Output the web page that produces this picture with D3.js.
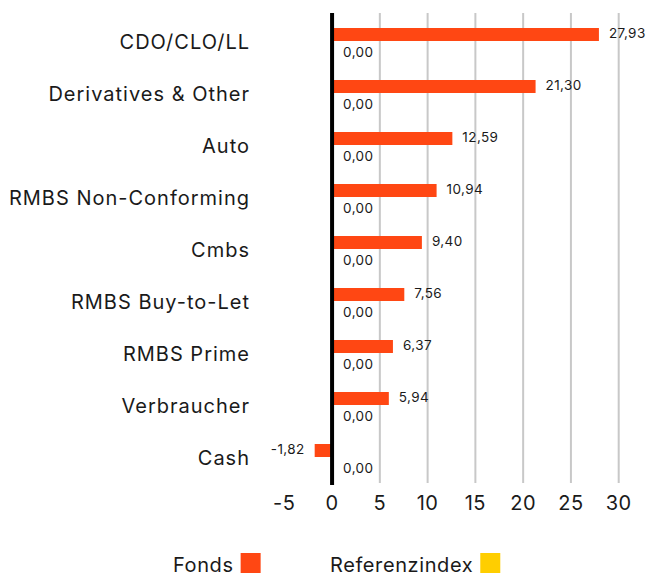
<!DOCTYPE html>
<html>
<head>
<meta charset="utf-8">
<script src="https://cdn.jsdelivr.net/npm/d3@7"></script>
<style>
  body { margin: 0; background: #fff; }
  text { font-family: Inter, "Noto Sans", sans-serif; fill: #1a1a1a; }
</style>
</head>
<body>
<div id="chart"></div>
<script>
// Data
const categories = ["CDO/CLO/LL", "Derivatives & Other", "Auto", "RMBS Non-Conforming",
  "Cmbs", "RMBS Buy-to-Let", "RMBS Prime", "Verbraucher", "Cash"];
const fonds = [27.93, 21.30, 12.59, 10.94, 9.40, 7.56, 6.37, 5.94, -1.82];
const referenz = [0, 0, 0, 0, 0, 0, 0, 0, 0];
const tickValues = [-5, 0, 5, 10, 15, 20, 25, 30];
const seriesNames = ["Fonds", "Referenzindex"];
const seriesColors = ["#FF4713", "#FFCE00"];

const width = 647, height = 579;
const svg = d3.select("#chart").append("svg")
  .attr("width", width).attr("height", height);

const x = d3.scaleLinear().domain([-5, 30]).range([284.3, 618.7]);
const y = d3.scaleBand().domain(categories).range([15, 483]);
// each bar 13px high: fonds above band center, referenz below
const barH = 13;
const fmt = v => v.toFixed(2).replace(".", ",");

// gridlines (positive ticks only)
svg.append("g").selectAll("line")
  .data(tickValues.filter(d => d > 0))
  .join("line")
  .attr("x1", d => x(d)).attr("x2", d => x(d))
  .attr("y1", 13).attr("y2", 483)
  .attr("stroke", "#c8c8c8").attr("stroke-width", 2);

// fonds bars
svg.append("g").selectAll("rect")
  .data(fonds)
  .join("rect")
  .attr("x", d => x(Math.min(0, d)))
  .attr("width", d => Math.abs(x(d) - x(0)))
  .attr("y", (d, i) => y(categories[i]) + y.bandwidth() / 2 - barH)
  .attr("height", barH)
  .attr("fill", seriesColors[0]);

// referenz bars (zero)
svg.append("g").selectAll("rect")
  .data(referenz)
  .join("rect")
  .attr("x", d => x(Math.min(0, d)))
  .attr("width", d => Math.abs(x(d) - x(0)))
  .attr("y", (d, i) => y(categories[i]) + y.bandwidth() / 2)
  .attr("height", barH)
  .attr("fill", seriesColors[1]);

// zero line
svg.append("line")
  .attr("x1", x(0)).attr("x2", x(0))
  .attr("y1", 13).attr("y2", 485)
  .attr("stroke", "#000").attr("stroke-width", 4);

// fonds value labels
svg.append("g").selectAll("text")
  .data(fonds)
  .join("text")
  .attr("x", d => d >= 0 ? x(d) + 10 : x(d) - 10)
  .attr("y", (d, i) => y(categories[i]) + y.bandwidth() / 2 - barH / 2 - 2)
  .attr("text-anchor", d => d >= 0 ? "start" : "end")
  .attr("dominant-baseline", "central")
  .style("font-size", "13.5px")
  .style("letter-spacing", "0.4px")
  .text(fmt);

// referenz value labels
svg.append("g").selectAll("text")
  .data(referenz)
  .join("text")
  .attr("x", d => x(d) + 11)
  .attr("y", (d, i) => y(categories[i]) + y.bandwidth() / 2 + barH / 2 + 4)
  .attr("dominant-baseline", "central")
  .style("font-size", "13.5px")
  .style("letter-spacing", "0.4px")
  .text(fmt);

// category labels
svg.append("g").selectAll("text")
  .data(categories)
  .join("text")
  .attr("x", 250)
  .attr("y", d => y(d) + y.bandwidth() / 2 + 1)
  .attr("text-anchor", "end")
  .attr("dominant-baseline", "central")
  .style("font-size", "20px")
  .style("letter-spacing", "1px")
  .text(d => d);

// x axis tick labels
svg.append("g").selectAll("text")
  .data(tickValues)
  .join("text")
  .attr("x", d => x(d))
  .attr("y", 503)
  .attr("text-anchor", "middle")
  .attr("dominant-baseline", "central")
  .style("font-size", "20px")
  .style("letter-spacing", "0.5px")
  .text(d => d);

// legend
const legendX = [173, 330];
const lg = svg.append("g").selectAll("g")
  .data(seriesNames)
  .join("g")
  .attr("transform", (d, i) => `translate(${legendX[i]},565)`);
lg.append("text")
  .attr("dominant-baseline", "central")
  .style("font-size", "20px")
  .style("letter-spacing", "0.6px")
  .text(d => d);
lg.each(function (d, i) {
  const g = d3.select(this);
  const w = g.select("text").node().getComputedTextLength();
  g.append("rect")
    .attr("x", w + 7).attr("y", -12)
    .attr("width", 20).attr("height", 20)
    .attr("fill", seriesColors[i]);
});
</script>
</body>
</html>
